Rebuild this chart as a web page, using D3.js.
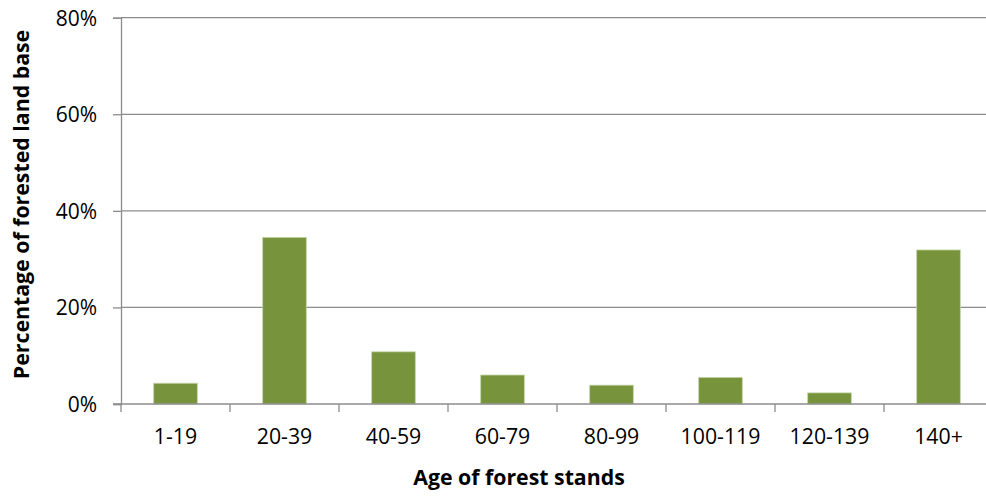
<!DOCTYPE html>
<html><head><meta charset="utf-8">
<script src="https://cdn.jsdelivr.net/npm/d3@7"></script>
<style>body{margin:0;background:#fff;} svg{display:block;}</style>
</head><body>
<svg id="c" width="986" height="496"></svg>
<script>
const categories = ["1-19","20-39","40-59","60-79","80-99","100-119","120-139","140+"];
const values = [4.3, 34.5, 10.8, 6.0, 3.9, 5.5, 2.3, 31.9];
const yTicks = [0, 20, 40, 60, 80];
const xTitle = "Age of forest stands";
const yTitle = "Percentage of forested land base";

const svg = d3.select("#c");
const L = 121, R = 993, T = 17.7, B = 404;
const font = "'Open Sans', Lato, sans-serif";
const x = d3.scaleBand().domain(categories).range([L, R]).paddingInner(0.6).paddingOuter(0.3);
const xb = d3.scaleBand().domain(categories).range([L, R]);
const y = d3.scaleLinear().domain([0, 80]).range([B, T]);
const grid = "#8c8c8c";

// gridlines
svg.append("g").selectAll("line").data(yTicks.filter(d => d > 0)).join("line")
  .attr("x1", L).attr("x2", R).attr("y1", d => y(d)).attr("y2", d => y(d))
  .attr("stroke", grid).attr("stroke-width", 1.3);

// y axis
const ya = svg.append("g").attr("transform", `translate(${L},0)`)
  .call(d3.axisLeft(y).tickValues(yTicks).tickFormat(d => d + "%").tickSize(8).tickPadding(16));
ya.select(".domain").attr("stroke", grid).attr("stroke-width", 1.3);
ya.selectAll(".tick line").attr("stroke", grid).attr("stroke-width", 1.3);
ya.selectAll(".tick text").attr("font-family", font).attr("font-size", 21).attr("fill", "#000").attr("dy", "0.36em");

// bars
svg.append("g").selectAll("rect").data(values).join("rect")
  .attr("x", (d, i) => x(categories[i]))
  .attr("width", x.bandwidth())
  .attr("y", d => y(d))
  .attr("height", d => B - y(d))
  .attr("fill", "#77933c").attr("stroke", "#c2d4a4").attr("stroke-width", 0.8);

// x axis
const xa = svg.append("g").attr("transform", `translate(0,${B})`)
  .call(d3.axisBottom(xb).tickSize(0).tickPadding(25));
xa.select(".domain").remove();
svg.append("line").attr("x1", L - 8).attr("x2", R).attr("y1", B).attr("y2", B)
  .attr("stroke", grid).attr("stroke-width", 1.3);
const edges = categories.map(c => xb(c)).concat([R]);
svg.append("g").selectAll("line").data(edges).join("line")
  .attr("x1", d => d).attr("x2", d => d).attr("y1", B).attr("y2", B + 8)
  .attr("stroke", grid).attr("stroke-width", 1.3);
xa.selectAll(".tick text").attr("font-family", font).attr("font-size", 21.3).attr("fill", "#000");

// titles
svg.append("text").attr("x", 519).attr("y", 485).attr("text-anchor", "middle")
  .attr("font-family", font).attr("font-weight", "bold").attr("font-size", 21.3).text(xTitle);
svg.append("text").attr("transform", "translate(28.5,204.5) rotate(-90)").attr("text-anchor", "middle")
  .attr("font-family", font).attr("font-weight", "bold").attr("font-size", 21.3).text(yTitle);
</script>
</body></html>
